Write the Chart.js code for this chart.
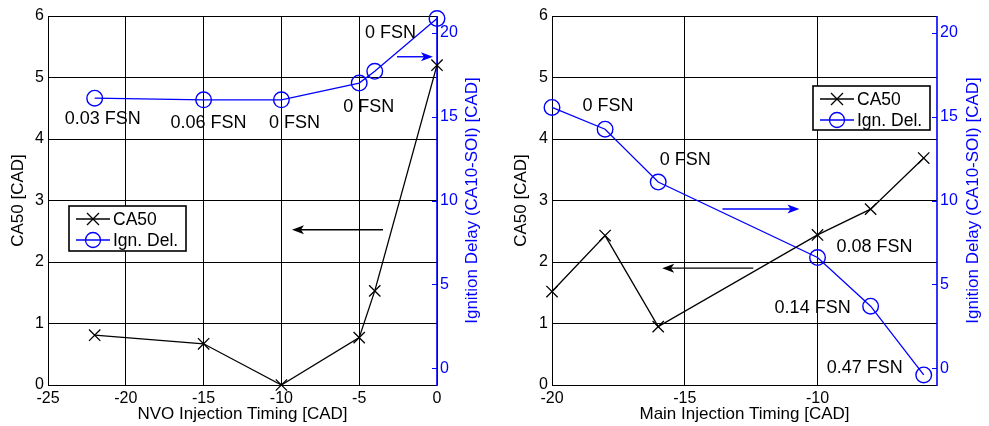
<!DOCTYPE html>
<html>
<head>
<meta charset="utf-8">
<script src="https://cdn.jsdelivr.net/npm/chart.js@4.4.1/dist/chart.umd.min.js"></script>
<style>
  html, body { margin: 0; padding: 0; background: #fff; }
  #wrap { position: relative; width: 989px; height: 426px; background: #fff; }
  canvas { position: absolute; top: 0; }
</style>
</head>
<body>
<div id="wrap">
  <canvas id="nvo" width="495" height="426" style="left:0"></canvas>
  <canvas id="main" width="494" height="426" style="left:495px"></canvas>
</div>
<script>
// NVO injection sweep
const nvoTiming   = [-22, -15, -10, -5, -4, 0];
const nvoCA50     = [0.81, 0.67, 0.0, 0.77, 1.53, 5.2];
const nvoIgnDelay = [16.1, 16.0, 16.0, 17.0, 17.7, 20.85];
const nvoSoot     = ['0.03 FSN', '0.06 FSN', '0 FSN', '0 FSN', '', '0 FSN'];

// Main injection sweep
const mainTiming   = [-20, -18, -16, -10, -8, -6];
const mainCA50     = [1.52, 2.43, 0.95, 2.44, 2.86, 3.69];
const mainIgnDelay = [15.55, 14.25, 11.1, 6.6, 3.7, -0.4];
const mainSoot     = ['', '0 FSN', '0 FSN', '0.08 FSN', '0.14 FSN', '0.47 FSN'];

// Tick values
const nvoXTicks  = [-25, -20, -15, -10, -5, 0];
const mainXTicks = [-20, -15, -10];
const ca50Ticks  = [0, 1, 2, 3, 4, 5, 6];
const delayTicks = [0, 5, 10, 15, 20];

const FONT = '"Liberation Sans", Arial, sans-serif';
const BLUE = '#0000ff';

// Pixel offsets of the soot labels from their ignition-delay points
const nvoSootOffsets  = [[8, 21], [5, 23.5], [13, 23.5], [9.5, 24], null, [-46.5, 15]];
const mainSootOffsets = [null, [3, -23], [27, -22], [57, -10], [-58, 2], [-59, -7]];

// Arrows pointing to the axis each curve belongs to (data coordinates)
const nvoArrows = [
  { axis: 'y2', x0: -2.57, x1: -0.26, v: 18.57, color: BLUE },
  { axis: 'y',  x0: -3.47, x1: -9.32, v: 2.525, color: '#000' }
];
const mainArrows = [
  { axis: 'y2', x0: -13.58, x1: -10.68, v: 9.49, color: BLUE },
  { axis: 'y',  x0: -12.42, x1: -15.85, v: 1.90, color: '#000' }
];

function pts(xs, ys) { return xs.map((x, i) => ({ x: x, y: ys[i] })); }

function drawArrow(ctx, x0, y0, x1, y1, color) {
  const ang = Math.atan2(y1 - y0, x1 - x0);
  const L = 12, W = 4.5, N = 3;
  ctx.save();
  ctx.strokeStyle = color; ctx.fillStyle = color; ctx.lineWidth = 1.4;
  ctx.beginPath();
  ctx.moveTo(x0, y0);
  ctx.lineTo(x1 - Math.cos(ang) * (L - N), y1 - Math.sin(ang) * (L - N));
  ctx.stroke();
  ctx.translate(x1, y1); ctx.rotate(ang);
  ctx.beginPath();
  ctx.moveTo(0, 0);
  ctx.lineTo(-L, -W);
  ctx.lineTo(-L + N, 0);
  ctx.lineTo(-L, W);
  ctx.closePath();
  ctx.fill();
  ctx.restore();
}

function drawCross(ctx, x, y, r) {
  ctx.beginPath();
  ctx.moveTo(x - r, y - r); ctx.lineTo(x + r, y + r);
  ctx.moveTo(x - r, y + r); ctx.lineTo(x + r, y - r);
  ctx.stroke();
}

function makeDecor(cfg) {
  return {
    id: 'decor',
    beforeDatasetsDraw(chart) {
      const ctx = chart.ctx, a = chart.chartArea;
      const y2 = chart.scales.y2;
      ctx.save();
      // frame
      ctx.strokeStyle = '#000'; ctx.lineWidth = 1;
      ctx.beginPath();
      ctx.moveTo(a.right, a.top + 0.5); ctx.lineTo(a.left + 0.5, a.top + 0.5);
      ctx.lineTo(a.left + 0.5, a.bottom + 0.5); ctx.lineTo(a.right, a.bottom + 0.5);
      ctx.stroke();
      // secondary axis line and inward ticks
      ctx.strokeStyle = BLUE; ctx.lineWidth = 1.6;
      ctx.beginPath();
      ctx.moveTo(a.right, a.top); ctx.lineTo(a.right, a.bottom + 1);
      ctx.stroke();
      ctx.lineWidth = 1;
      delayTicks.forEach(v => {
        const py = Math.round(y2.getPixelForValue(v)) + 0.5;
        ctx.beginPath(); ctx.moveTo(a.right - 5, py); ctx.lineTo(a.right, py); ctx.stroke();
      });
      // secondary axis title, reading bottom to top
      ctx.save();
      ctx.translate(a.right + cfg.y2TitleOffset, (a.top + a.bottom) / 2);
      ctx.rotate(-Math.PI / 2);
      ctx.fillStyle = BLUE; ctx.font = '17px ' + FONT;
      ctx.textAlign = 'center'; ctx.textBaseline = 'middle';
      ctx.fillText('Ignition Delay (CA10-SOI) [CAD]', 0, 0);
      ctx.restore();
      ctx.restore();
    },
    afterDatasetsDraw(chart) {
      const ctx = chart.ctx, a = chart.chartArea;
      const xs = chart.scales.x, y2 = chart.scales.y2;
      ctx.save();
      // soot labels
      ctx.fillStyle = '#000'; ctx.font = '18px ' + FONT;
      ctx.textAlign = 'center'; ctx.textBaseline = 'middle';
      cfg.timing.forEach((t, i) => {
        const off = cfg.offsets[i];
        if (!off || !cfg.soot[i]) return;
        const px = xs.getPixelForValue(t), py = y2.getPixelForValue(cfg.delay[i]);
        ctx.fillText(cfg.soot[i], px + off[0], py + off[1]);
      });
      // arrows
      cfg.arrows.forEach(ar => {
        const sc = chart.scales[ar.axis];
        const py = sc.getPixelForValue(ar.v);
        drawArrow(ctx, xs.getPixelForValue(ar.x0), py, xs.getPixelForValue(ar.x1), py, ar.color);
      });
      // legend
      const L = cfg.legend;
      const lx = a.left + L.dx, ly = a.top + L.dy;
      ctx.fillStyle = '#fff';
      ctx.fillRect(lx, ly, L.w, L.h);
      ctx.strokeStyle = '#000'; ctx.lineWidth = 1.6;
      ctx.strokeRect(lx, ly, L.w, L.h);
      const rows = [
        { text: 'CA50', color: '#000', y: ly + 13, mark: 'x' },
        { text: 'Ign. Del.', color: BLUE, y: ly + 34, mark: 'o' }
      ];
      rows.forEach(r => {
        ctx.strokeStyle = r.color; ctx.lineWidth = 1.3;
        ctx.beginPath(); ctx.moveTo(lx + 7, r.y); ctx.lineTo(lx + 41, r.y); ctx.stroke();
        if (r.mark === 'x') drawCross(ctx, lx + 24, r.y, 6);
        else { ctx.beginPath(); ctx.arc(lx + 24, r.y, 7.5, 0, Math.PI * 2); ctx.stroke(); }
        ctx.fillStyle = '#000'; ctx.textAlign = 'left'; ctx.textBaseline = 'middle';
        ctx.font = '17.5px ' + FONT;
        ctx.fillText(r.text, lx + 44, r.y + 1);
      });
      ctx.restore();
    }
  };
}

function buildChart(id, cfg) {
  const ticksFont = { family: FONT, size: 16 };
  const titleFont = { family: FONT, size: 17 };
  return new Chart(document.getElementById(id), {
    type: 'scatter',
    data: {
      datasets: [
        {
          label: 'CA50', data: pts(cfg.timing, cfg.ca50), yAxisID: 'y',
          showLine: true, clip: false, borderColor: '#000', borderWidth: 1.3,
          pointStyle: 'crossRot', pointRadius: 8, pointHoverRadius: 8,
          pointBorderColor: '#000', pointBorderWidth: 1.3
        },
        {
          label: 'Ign. Del.', data: pts(cfg.timing, cfg.delay), yAxisID: 'y2',
          showLine: true, clip: false, borderColor: BLUE, borderWidth: 1.3,
          pointStyle: 'circle', pointRadius: 7.8, pointHoverRadius: 7.8,
          pointBorderColor: BLUE, pointBackgroundColor: 'rgba(0,0,0,0)', pointBorderWidth: 1.4
        }
      ]
    },
    options: {
      responsive: false, animation: false,
      layout: { padding: { top: 16, left: 0, right: 0, bottom: 0 } },
      plugins: { legend: { display: false }, tooltip: { enabled: false } },
      scales: {
        x: {
          type: 'linear', min: cfg.xMin, max: cfg.xMax,
          afterBuildTicks: s => { s.ticks = cfg.xTicks.map(v => ({ value: v })); },
          afterFit: s => { s.height = 41; },
          ticks: { font: ticksFont, color: '#000', padding: 4, maxRotation: 0, autoSkip: false },
          grid: { color: '#000', lineWidth: 1, drawTicks: false },
          border: { display: false },
          title: { display: true, text: cfg.xTitle, font: titleFont, color: '#000', padding: { top: 0, bottom: 1 } }
        },
        y: {
          position: 'left', min: 0, max: 6,
          afterBuildTicks: s => { s.ticks = ca50Ticks.map(v => ({ value: v })); },
          afterFit: s => { s.width = cfg.yWidth; },
          ticks: { font: ticksFont, color: '#000', padding: 4 },
          grid: { color: '#000', lineWidth: 1, drawTicks: false },
          border: { display: false },
          title: { display: true, text: 'CA50 [CAD]', font: titleFont, color: '#000', padding: { top: cfg.yTitlePad, bottom: 0 } }
        },
        y2: {
          position: 'right', min: -1, max: 21,
          afterBuildTicks: s => { s.ticks = delayTicks.map(v => ({ value: v })); },
          afterFit: s => { s.width = cfg.y2Width; },
          ticks: { font: ticksFont, color: BLUE, padding: 3 },
          grid: { drawOnChartArea: false, drawTicks: false },
          border: { display: false }
        }
      }
    },
    plugins: [makeDecor(cfg)]
  });
}

buildChart('nvo', {
  timing: nvoTiming, ca50: nvoCA50, delay: nvoIgnDelay, soot: nvoSoot,
  offsets: nvoSootOffsets, arrows: nvoArrows,
  xMin: -25, xMax: 0, xTicks: nvoXTicks, xTitle: 'NVO Injection Timing [CAD]',
  yWidth: 48, y2Width: 58, yTitlePad: 8, y2TitleOffset: 35,
  legend: { dx: 21, dy: 190, w: 117, h: 45 }
});

buildChart('main', {
  timing: mainTiming, ca50: mainCA50, delay: mainIgnDelay, soot: mainSoot,
  offsets: mainSootOffsets, arrows: mainArrows,
  xMin: -20, xMax: -5.5, xTicks: mainXTicks, xTitle: 'Main Injection Timing [CAD]',
  yWidth: 57, y2Width: 52, yTitlePad: 16, y2TitleOffset: 36,
  legend: { dx: 261, dy: 70, w: 117, h: 44 }
});
</script>
</body>
</html>
